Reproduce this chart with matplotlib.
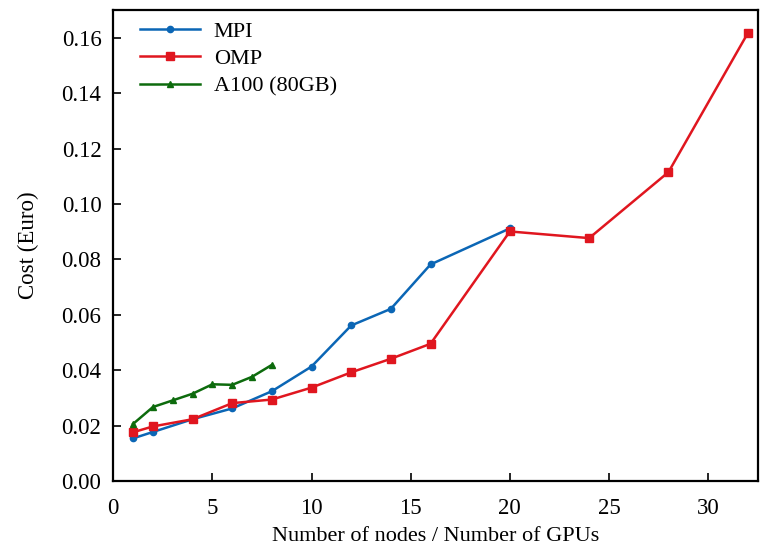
import matplotlib
matplotlib.use("Agg")
import matplotlib.pyplot as plt

plt.rcParams["font.family"] = ["Liberation Serif", "DejaVu Serif"]

mpi_nodes = [1, 2, 4, 6, 8, 10, 12, 14, 16, 20]
mpi_cost = [0.0155, 0.0178, 0.0224, 0.0263, 0.0325, 0.0414, 0.0562, 0.0622, 0.0782, 0.0912]

omp_nodes = [1, 2, 4, 6, 8, 10, 12, 14, 16, 20, 24, 28, 32]
omp_cost = [0.0177, 0.0198, 0.0224, 0.0282, 0.0295, 0.0338, 0.0393, 0.0442, 0.0496,
            0.0901, 0.0877, 0.1115, 0.1616]

a100_gpus = [1, 2, 3, 4, 5, 6, 7, 8]
a100_cost = [0.0207, 0.0268, 0.0292, 0.0316, 0.0350, 0.0348, 0.0377, 0.0420]

fig = plt.figure(figsize=(7.6, 5.47), dpi=100)
ax = fig.add_axes([0.149, 0.12, 0.848, 0.862])

ax.plot(mpi_nodes, mpi_cost, color="#0b66b5", marker="o", markersize=4.5,
        linewidth=1.8, label="MPI")
ax.plot(omp_nodes, omp_cost, color="#e0161f", marker="s", markersize=5.5,
        linewidth=1.8, label="OMP")
ax.plot(a100_gpus, a100_cost, color="#0d6b0d", marker="^", markersize=4.5,
        linewidth=1.8, label="A100 (80GB)")

ax.set_xlim(0, 32.5)
ax.set_ylim(0, 0.17)
ax.set_xticks([0, 5, 10, 15, 20, 25, 30])
ax.set_yticks([0.00, 0.02, 0.04, 0.06, 0.08, 0.10, 0.12, 0.14, 0.16])
ax.yaxis.set_major_formatter(matplotlib.ticker.FormatStrFormatter("%.2f"))
ax.tick_params(direction="in", length=6, width=1.2, labelsize=16.5,
               top=False, right=False)
ax.tick_params(axis="x", pad=12)
ax.tick_params(axis="y", pad=8.5)
for spine in ax.spines.values():
    spine.set_linewidth(1.6)

ax.set_xlabel("Number of nodes / Number of GPUs", fontsize=16, labelpad=6)
ax.set_ylabel("Cost (Euro)", fontsize=16.5, labelpad=16)

ax.legend(loc="upper left", bbox_to_anchor=(0.025, 1.0), frameon=False,
          fontsize=16, handlelength=2.7, handletextpad=0.6,
          borderaxespad=0.1, labelspacing=0.32)

fig.savefig("out.png", dpi=100)
